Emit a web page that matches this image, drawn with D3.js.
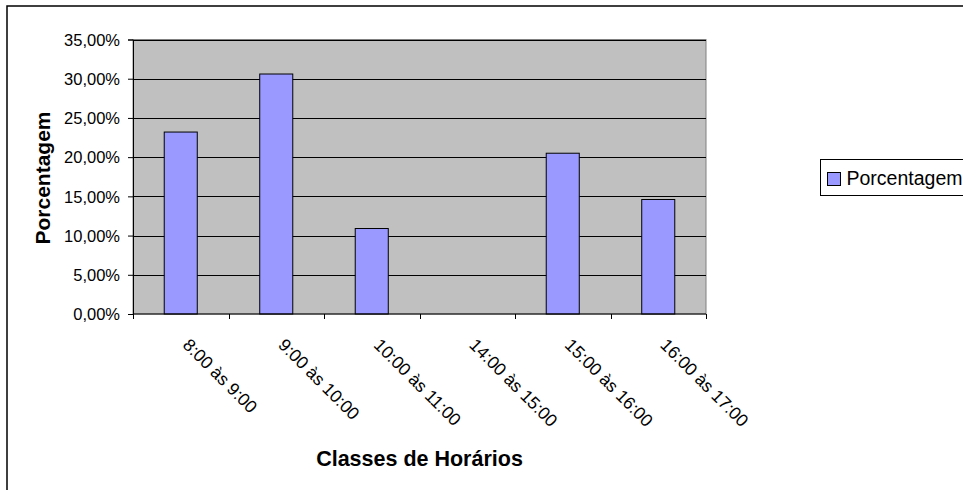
<!DOCTYPE html>
<html>
<head>
<meta charset="utf-8">
<script src="https://cdn.jsdelivr.net/npm/d3@7"></script>
<style>
  body { margin: 0; background: #fff; }
  svg { display: block; font-family: Arial, "Liberation Sans", sans-serif; }
</style>
</head>
<body>
<div id="chart"></div>
<script>
// data
var categories = ["8:00 às 9:00", "9:00 às 10:00", "10:00 às 11:00", "14:00 às 15:00", "15:00 às 16:00", "16:00 às 17:00"];
var porcentagem = [23.2, 30.6, 10.9, 0, 20.5, 14.6];
var yTicks = [0, 5, 10, 15, 20, 25, 30, 35];
var seriesName = "Porcentagem";

var W = 963, H = 490;
var plot = {left: 133, top: 39.5, right: 706, bottom: 314};

var svg = d3.select("#chart").append("svg")
    .attr("width", W)
    .attr("height", H);

// outer frame (only top and left show)
svg.append("rect")
    .attr("x", 7).attr("y", 6)
    .attr("width", W + 20).attr("height", H + 20)
    .attr("fill", "#fff")
    .attr("stroke", "#000")
    .attr("stroke-width", 1.5);

var x = d3.scaleBand()
    .domain(categories)
    .range([plot.left, plot.right])
    .paddingInner(0.654)
    .paddingOuter(0.327);

var y = d3.scaleLinear()
    .domain([0, 35])
    .range([plot.bottom, plot.top]);

// plot area
svg.append("rect")
    .attr("x", plot.left).attr("y", plot.top)
    .attr("width", plot.right - plot.left)
    .attr("height", plot.bottom - plot.top)
    .attr("fill", "#c0c0c0")
    .attr("stroke", "#808080")
    .attr("stroke-width", 1);

// gridlines
svg.append("g").selectAll("line")
    .data(yTicks.filter(function(d) { return d > 0; }))
    .enter().append("line")
    .attr("x1", plot.left).attr("x2", plot.right)
    .attr("y1", function(d) { return Math.round(y(d)) + 0.5; })
    .attr("y2", function(d) { return Math.round(y(d)) + 0.5; })
    .attr("stroke", "#000")
    .attr("stroke-width", 1);

// bars
svg.append("g").selectAll("rect")
    .data(porcentagem)
    .enter().append("rect")
    .attr("x", function(d, i) { return x(categories[i]); })
    .attr("y", function(d) { return y(d); })
    .attr("width", x.bandwidth())
    .attr("height", function(d) { return plot.bottom - y(d); })
    .attr("fill", "#9999ff")
    .attr("stroke", function(d) { return d > 0 ? "#000" : "none"; })
    .attr("stroke-width", 1);

// y axis
var yAxis = d3.axisLeft(y)
    .tickValues(yTicks)
    .tickSize(5)
    .tickPadding(8)
    .tickFormat(function(d) { return d3.format(".2f")(d).replace(".", ",") + "%"; });

var gy = svg.append("g")
    .attr("transform", "translate(" + plot.left + ",0)")
    .call(yAxis);
gy.select(".domain").attr("stroke", "#000");
gy.selectAll(".tick line").attr("stroke", "#000");
gy.selectAll(".tick text")
    .attr("font-size", 16.5)
    .attr("fill", "#000")
    .attr("font-family", "Arial, 'Liberation Sans', sans-serif")
    .attr("dy", "0.35em");

// x axis: ticks at category boundaries
var step = x.step();
var xBounds = d3.range(categories.length + 1).map(function(i) { return plot.left + i * step; });
svg.append("line")
    .attr("x1", plot.left).attr("x2", plot.right)
    .attr("y1", plot.bottom).attr("y2", plot.bottom)
    .attr("stroke", "#000");
svg.append("g").selectAll("line")
    .data(xBounds)
    .enter().append("line")
    .attr("x1", function(d) { return Math.round(d) + 0.5; })
    .attr("x2", function(d) { return Math.round(d) + 0.5; })
    .attr("y1", plot.bottom).attr("y2", plot.bottom + 5)
    .attr("stroke", "#000");

svg.append("g").selectAll("text")
    .data(categories)
    .enter().append("text")
    .attr("transform", function(d) {
        return "translate(" + (x(d) + x.bandwidth() / 2 + 1) + "," + 346 + ") rotate(45)";
    })
    .attr("font-size", 17.5)
    .attr("fill", "#000")
    .text(function(d) { return d; });

// axis titles
svg.append("text")
    .attr("x", (plot.left + plot.right) / 2)
    .attr("y", 466)
    .attr("text-anchor", "middle")
    .attr("font-size", 21.5)
    .attr("font-weight", "bold")
    .text("Classes de Horários");

svg.append("text")
    .attr("transform", "translate(50," + 178 + ") rotate(-90)")
    .attr("text-anchor", "middle")
    .attr("font-size", 21)
    .attr("font-weight", "bold")
    .text("Porcentagem");

// legend
var legend = svg.append("g").attr("transform", "translate(820.5,159.5)");
legend.append("rect")
    .attr("width", 200).attr("height", 36)
    .attr("fill", "#fff")
    .attr("stroke", "#000");
legend.append("rect")
    .attr("x", 7).attr("y", 13)
    .attr("width", 13).attr("height", 13)
    .attr("fill", "#9999ff")
    .attr("stroke", "#000");
legend.append("text")
    .attr("x", 26).attr("y", 25.5)
    .attr("font-size", 19.5)
    .attr("fill", "#000")
    .text(seriesName);
</script>
</body>
</html>
